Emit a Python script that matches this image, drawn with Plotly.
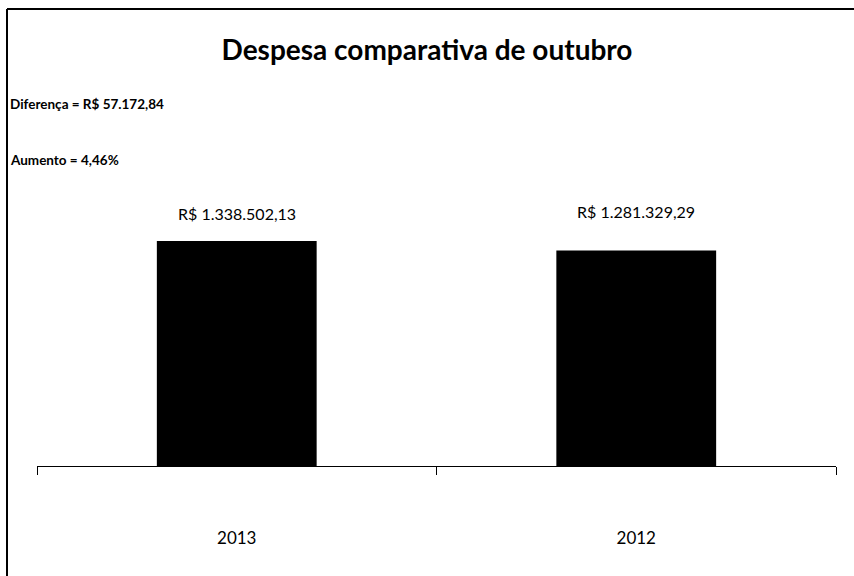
import plotly.graph_objects as go

categories = ["2013", "2012"]
values = [1338502.13, 1281329.29]
value_labels = ["R$ 1.338.502,13", "R$ 1.281.329,29"]
title_text = "Despesa comparativa de outubro"
note_lines = ["Diferença = R$ 57.172,84", "Aumento = 4,46%"]

W, H = 854, 576
L, R, T, B = 37, 18, 197, 110
pw, ph = W - L - R, H - T - B
FONT = "Lato"

def px(x):
    return (x - L) / pw

def py(y):
    return (H - B - y) / ph

fig = go.Figure(go.Bar(
    x=categories, y=values, marker=dict(color="black", line=dict(width=0)),
    width=0.4, hoverinfo="skip"))

annotations = []
for i, (lab, ypix) in enumerate(zip(value_labels, [213, 211])):
    annotations.append(dict(x=i, xref="x", yref="paper", y=py(ypix), text=lab, showarrow=False,
                            yanchor="middle", font=dict(family=FONT, size=16, color="black")))
for t, ypix in zip(note_lines, [104, 160]):
    annotations.append(dict(xref="paper", yref="paper", x=px(8), y=py(ypix), text="<b>" + t + "</b>",
                            showarrow=False, xanchor="left", yanchor="middle",
                            font=dict(family=FONT, size=13.5, color="black")))

fig.update_layout(
    width=W, height=H, margin=dict(l=L, r=R, t=T, b=B),
    paper_bgcolor="white", plot_bgcolor="white", showlegend=False,
    title=dict(text="<b>" + title_text + "</b>", x=427 / W, xref="container", xanchor="center",
               y=1 - 50 / H, yanchor="middle", font=dict(family=FONT, size=28, color="black")),
    xaxis=dict(type="category", range=[-0.5, 1.5], showline=True, linecolor="black", linewidth=1,
               ticks="outside", tickson="boundaries", ticklen=8, tickcolor="black",
               showgrid=False, ticklabelstandoff=57,
               tickfont=dict(family=FONT, size=17, color="black")),
    yaxis=dict(range=[0, 1.6e6], visible=False, showgrid=False),
    annotations=annotations,
    shapes=[
        dict(type="line", xref="paper", yref="paper", x0=px(7), x1=px(854), y0=py(9), y1=py(9),
             line=dict(color="black", width=2)),
        dict(type="line", xref="paper", yref="paper", x0=px(7), x1=px(7), y0=py(9), y1=py(576),
             line=dict(color="black", width=2)),
    ],
)

fig.write_html("out.html", config={"displayModeBar": False},
               post_script="document.body.style.margin='0';")
